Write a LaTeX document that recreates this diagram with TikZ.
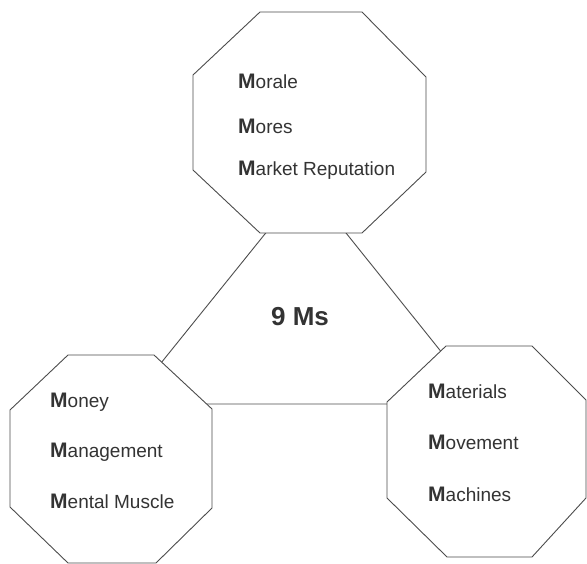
\documentclass[tikz,border=0pt]{standalone}
\usepackage{fontspec}
\setmainfont{Liberation Sans}
\newcommand{\lead}[1]{{\bfseries\fontsize{21}{23}\selectfont #1}}

\begin{document}
\begin{tikzpicture}[
  x=1pt, y=-1pt,
  every node/.style={inner sep=0},
  octagon/.style={draw=black!70, fill=white, line width=0.9pt, line join=round},
  wedge/.style={draw=black!70, line width=0.9pt},
  item/.style={anchor=base west, text=black!80, font=\fontsize{19}{23}\selectfont},
  title/.style={text=black!80, font=\bfseries\fontsize{26}{31}\selectfont}]

  \useasboundingbox (0,0) rectangle (587,564);

  % Triangle behind the three octagons
  \draw[wedge] (306,183) -- (128,404) -- (483,404) -- cycle;

  % Octagons: top, left, right
  \draw[octagon] (260,12) -- (362,12) -- (426,77) -- (426,172) -- (362,233)
    -- (260,233) -- (193,170) -- (193,75) -- cycle;
  \draw[octagon] (68,355) -- (154,355) -- (212,409) -- (212,508) -- (156,563)
    -- (68,563) -- (10,507) -- (10,410) -- cycle;
  \draw[octagon] (446,346) -- (532,346) -- (586,400) -- (586,498) -- (532,557)
    -- (447,557) -- (387,498) -- (387,402) -- cycle;

  % Centre label
  \node[title] (nine) at (300,317) {9 Ms};

  % Top group
  \node[item] (morale) at (238,89) {\lead{M}orale};
  \node[item] (mores) at (238,134) {\lead{M}ores};
  \node[item] (market) at (238,176) {\lead{M}arket Reputation};

  % Left group
  \node[item] (money) at (50,407) {\lead{M}oney};
  \node[item] (management) at (50,457) {\lead{M}anagement};
  \node[item] (mental) at (50,508) {\lead{M}ental Muscle};

  % Right group
  \node[item] (materials) at (428,399) {\lead{M}aterials};
  \node[item] (movement) at (428,449) {\lead{M}ovement};
  \node[item] (machines) at (428,501) {\lead{M}achines};
\end{tikzpicture}
\end{document}
